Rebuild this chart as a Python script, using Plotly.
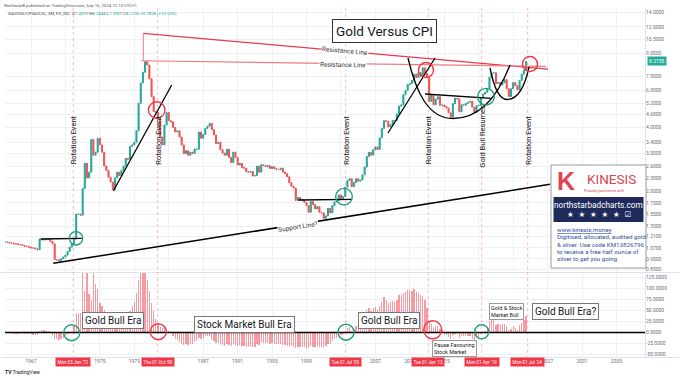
import math
import pandas as pd
import plotly.graph_objects as go

W, H = 680, 378

# ---------------- data (quarterly, 1964 Q1 .. 2024 Q3) ----------------
first_quarter = "1964-01-01"

ratio_close = [
    1.14, 1.14, 1.13, 1.13,   # 1964
    1.12, 1.12, 1.11, 1.11,   # 1965
    1.10, 1.09, 1.09, 1.08,   # 1966
    1.07, 1.07, 1.06, 1.05,   # 1967
    1.18, 1.17, 1.17, 1.18,   # 1968
    1.18, 1.15, 1.12, 0.94,   # 1969
    0.94, 0.93, 0.95, 0.97,   # 1970
    0.99, 1.03, 1.08, 1.12,   # 1971
    1.18, 1.55, 1.55, 1.53,   # 1972
    2.05, 2.70, 2.30, 2.45,   # 1973
    3.50, 2.95, 3.05, 3.55,   # 1974
    3.30, 3.05, 2.62, 2.50,   # 1975
    2.32, 2.20, 2.03, 2.30,   # 1976
    2.45, 2.36, 2.50, 2.62,   # 1977
    2.85, 2.82, 3.25, 3.30,   # 1978
    3.40, 3.85, 5.20, 6.50,   # 1979
    7.30, 8.20, 7.90, 6.80,   # 1980
    5.60, 4.75, 4.70, 4.40,   # 1981
    3.60, 3.30, 4.10, 4.70,   # 1982
    4.30, 4.25, 4.00, 3.80,   # 1983
    3.85, 3.60, 3.30, 3.00,   # 1984
    3.10, 2.95, 3.05, 3.00,   # 1985
    3.15, 3.15, 3.80, 3.55,   # 1986
    3.70, 3.95, 4.05, 4.18,   # 1987
    3.90, 3.68, 3.35, 3.40,   # 1988
    3.13, 3.02, 2.95, 3.15,   # 1989
    2.88, 2.72, 3.05, 2.88,   # 1990
    2.65, 2.70, 2.58, 2.56,   # 1991
    2.46, 2.45, 2.47, 2.35,   # 1992
    2.36, 2.62, 2.45, 2.66,   # 1993
    2.64, 2.60, 2.63, 2.55,   # 1994
    2.60, 2.55, 2.52, 2.52,   # 1995
    2.56, 2.45, 2.41, 2.33,   # 1996
    2.18, 2.10, 2.06, 1.80,   # 1997
    1.86, 1.82, 1.80, 1.76,   # 1998
    1.70, 1.58, 1.78, 1.72,   # 1999
    1.64, 1.68, 1.58, 1.57,   # 2000
    1.48, 1.52, 1.65, 1.57,   # 2001
    1.70, 1.77, 1.79, 1.91,   # 2002
    1.84, 1.88, 2.08, 2.24,   # 2003
    2.28, 2.09, 2.19, 2.28,   # 2004
    2.22, 2.25, 2.38, 2.59,   # 2005
    2.91, 3.04, 2.95, 3.13,   # 2006
    3.23, 3.14, 3.56, 3.95,   # 2007
    4.30, 4.27, 4.02, 4.12,   # 2008
    4.31, 4.31, 4.63, 5.04,   # 2009
    5.11, 5.71, 5.98, 6.39,   # 2010
    6.45, 6.67, 7.15, 6.89,   # 2011
    7.26, 6.98, 7.67, 7.20,   # 2012
    6.87, 5.31, 5.68, 5.12,   # 2013
    5.44, 5.59, 5.09, 5.10,   # 2014
    5.02, 4.94, 4.69, 4.47,   # 2015
    5.18, 5.50, 5.46, 4.74,   # 2016
    5.12, 5.09, 5.20, 5.26,   # 2017
    5.31, 4.99, 4.72, 5.07,   # 2018
    5.09, 5.52, 5.74, 5.87,   # 2019
    6.11, 6.92, 7.25, 7.26,   # 2020
    6.45, 6.53, 6.36, 6.51,   # 2021
    6.74, 6.10, 5.60, 6.10,   # 2022
    6.52, 6.31, 6.02, 6.68,   # 2023
    7.15, 7.46, 8.2155,       # 2024
]

oscillator = [
    -2, -2, -2, -3,  -3, -3, -3, -3,  -3, -4, -4, -4,  -4, -5, -5, -5,      # 1964-67
    4, 5, 5, 4,  3, 2, -5, -14,  -15, -16, -14, -12,  -9, -6, -2, 2,        # 1968-71
    18, 44, 43, 45,  135, 95, 135, 88,  75, 135, 110, 100,  67, 60, 52, 46, # 1972-75
    44, 44, 42, 44,  45, 43, 44, 44,  44, 45, 48, 60,  70, 90, 120, 135,    # 1976-79
    135, 135, 120, 95,  67, 50, 30, 21,  12, 10, 12, 8,  4, 0, -8, -15,     # 1980-83
    -18, -22, -26, -28,  -27, -28, -26, -25,  -22, -20, -12, -15,  -12, -9, -8, -8,  # 1984-87
    -15, -20, -24, -24,  -26, -28, -30, -27,  -29, -31, -25, -28,  -30, -29, -31, -31,  # 1988-91
    -32, -32, -31, -34,  -33, -25, -28, -22,  -23, -24, -23, -25,  -24, -25, -26, -26,  # 1992-95
    -25, -28, -29, -31,  -30, -31, -32, -35,  -33, -33, -33, -34,  -35, -36, -30, -32,  # 1996-99
    -33, -31, -33, -32,  -34, -30, -25, -27,  -20, -15, -12, -5,  -6, -3, 4, 10,        # 2000-03
    12, 4, 8, 14,  22, 26, 32, 42,  52, 55, 50, 55,  57, 52, 60, 70,       # 2004-07
    80, 75, 67, 70,  72, 70, 75, 85,  85, 90, 92, 96,  97, 95, 98, 92,     # 2008-11
    90, 85, 82, 75,  55, 25, 20, 10,  14, 15, 8, 6,  -3, -5, -10, -14,     # 2012-15
    -5, -3, -4, -12,  -8, -9, -8, -8,  -9, -14, -17, -12,  -10, -3, 2, 4,  # 2016-19
    10, 27, 30, 29,  18, 20, 18, 19,  20, 15, 6, 8,  14, 10, 6, 16,        # 2020-23
    21, 28, 38,                                                             # 2024
]

# year labels visible on the time axis (others sit under the date badges)
year_grid = list(range(1967, 2040, 4))
year_labels = [1967, 1975, 1979, 1987, 1991, 1995, 1999, 2007, 2011, 2015,
               2027, 2031, 2035, 2039]
price_ticks = [0.85, 0.95, 1.07, 1.21, 1.35, 1.55, 1.75, 2.0, 2.3, 2.6, 3.0, 3.4,
               4.0, 4.6, 5.2, 6.0, 7.0, 9.0, 10.5, 12.0, 14.0]
osc_ticks = [-50, -25, 0, 25, 50, 75, 100, 125]

event_badges = ["Mon 03 Jan '72", "Thu 01 Oct '80", "Tue 01 Jul '05",
                "Tue 01 Jan '13", "Mon 01 Apr '19", "Mon 01 Jul '24"]
last_price = 8.2155

# ---------------- derived ----------------
dates = pd.date_range(first_quarter, periods=len(ratio_close), freq="QS")
opens = [ratio_close[0]] + ratio_close[:-1]
highs = [max(o, c) for o, c in zip(opens, ratio_close)]
lows = [min(o, c) for o, c in zip(opens, ratio_close)]


def frac_year(fy):
    y = int(math.floor(fy))
    s = pd.Timestamp(y, 1, 1)
    days = (pd.Timestamp(y + 1, 1, 1) - s).days
    return s + pd.Timedelta(days=(fy - y) * days)


def px_year(px):
    return 1967 + (px - 31) / 8.61


X_L, X_R = 5, 645
x_range = [frac_year(px_year(X_L)), frac_year(px_year(X_R))]

# main pane (log) pixel geometry
TOP_M, BOT_M = 8, 272
def price_at(py):
    return math.exp(math.log(14) - (py - 12.7) / 91.5)
y_range = [math.log10(price_at(BOT_M)), math.log10(price_at(TOP_M))]

TOP_O, BOT_O = 273, 357
ZERO_O = 332.5
osc_range = [-(BOT_O - ZERO_O) * 25 / 11, (ZERO_O - TOP_O) * 25 / 11]

GRID = "#eef0f5"
TICKC = "#6a6d78"
RED = "#f23645"
GREEN = "#1f9e7a"

fig = go.Figure()
fig.add_trace(go.Candlestick(
    x=dates, open=opens, high=highs, low=lows, close=ratio_close,
    increasing=dict(line=dict(color="#26a69a", width=1.0), fillcolor="#26a69a"),
    decreasing=dict(line=dict(color="#ef5350", width=1.0), fillcolor="#ef5350"),
    whiskerwidth=0, xaxis="x", yaxis="y", showlegend=False, hoverinfo="skip"))
fig.add_trace(go.Bar(
    x=dates, y=oscillator, xaxis="x2", yaxis="y2", showlegend=False,
    marker=dict(color="rgba(242,54,69,0.5)", line=dict(width=0)),
    width=55 * 86400000, hoverinfo="skip"))

# ---------------- helpers for drawings (pixel -> paper) ----------------
def X(px):
    return px / W


def Y(py):
    return 1 - py / H


shapes = []
ann = []


def line(x0, y0, x1, y1, color="black", width=1.3, dash="solid"):
    shapes.append(dict(type="line", xref="paper", yref="paper",
                       x0=X(x0), y0=Y(y0), x1=X(x1), y1=Y(y1),
                       line=dict(color=color, width=width, dash=dash), layer="above"))


def circle(cx, cy, r, color):
    shapes.append(dict(type="circle", xref="paper", yref="paper",
                       x0=X(cx - r), x1=X(cx + r), y0=Y(cy + r), y1=Y(cy - r),
                       line=dict(color=color, width=1.4), layer="above"))


def rect(x0, y0, x1, y1, fill, border=None, bw=1):
    shapes.append(dict(type="rect", xref="paper", yref="paper",
                       x0=X(x0), x1=X(x1), y0=Y(y1), y1=Y(y0), fillcolor=fill,
                       line=dict(color=border or fill, width=bw if border else 0),
                       layer="above"))


def curve(points, color="black", width=1.3):
    # points: start, then groups of 3 for cubic beziers
    p = "M {:.5f},{:.5f}".format(X(points[0][0]), Y(points[0][1]))
    rest = points[1:]
    for i in range(0, len(rest), 3):
        p += " C " + " ".join("{:.5f},{:.5f}".format(X(a), Y(b)) for a, b in rest[i:i + 3])
    shapes.append(dict(type="path", xref="paper", yref="paper", path=p,
                       line=dict(color=color, width=width), layer="above"))


def text(x, y, s, size=7, color="#131722", angle=0, xanchor="center", yanchor="middle",
         bg=None, border=None, pad=1, family="Roboto", align="center"):
    d = dict(xref="paper", yref="paper", x=X(x), y=Y(y), text=s, showarrow=False,
             xanchor=xanchor, yanchor=yanchor, textangle=angle, align=align,
             font=dict(size=size, color=color, family=family), borderpad=pad)
    if bg:
        d["bgcolor"] = bg
    if border:
        d["bordercolor"] = border
        d["borderwidth"] = 1
    ann.append(d)


# pane separators
line(0, 272.5, 680, 272.5, color="#e0e3eb", width=1)
line(645.5, 8, 645.5, 357, color="#e0e3eb", width=1)
line(0, 357.5, 680, 357.5, color="#e0e3eb", width=1)

# event vertical lines
event_px = [73.3, 157.7, 345.7, 428.3, 481.7, 527.7]
for ex in event_px:
    line(ex, 8, ex, 357, color="rgba(242,54,69,0.35)", width=1, dash="dot")

# zero line of oscillator (data coords)
shapes.append(dict(type="line", xref="paper", yref="y2", x0=X(5), x1=X(645), y0=0, y1=0,
                   line=dict(color="black", width=1.6), layer="above"))

# resistance lines
line(143.3, 33.3, 548, 69.2, color="#e8394a", width=1.3)
line(141, 60.8, 546, 66.4, color="#f07a85", width=1.1)
line(143.3, 33.3, 143.3, 61, color="#f07a85", width=1)

# black trend lines
line(40.7, 239, 81.7, 238.3)
line(113.3, 191, 171.7, 85)
line(53.3, 263.3, 550, 184.3, width=1.5)
line(298.3, 200, 351.7, 199.3)
line(388, 133, 435, 58)
line(425, 94, 491.7, 98.3)
curve([(408, 58), (416, 92), (428, 118.5), (453, 118.5), (480, 118.5), (498, 96), (510, 65)])
curve([(490, 68), (494, 88), (499, 99.5), (507, 99.5), (518, 99.5), (525, 86), (529, 67)])

# circles main pane
circle(76, 238.3, 6.7, GREEN)
circle(156.7, 110, 8.3, RED)
circle(344, 196.7, 8.3, GREEN)
circle(426, 70, 7.5, RED)
circle(486, 96.7, 8.3, GREEN)
circle(530, 64, 7.5, RED)
# circles oscillator pane
circle(71.7, 332.7, 8, GREEN)
circle(158.3, 331.7, 8, RED)
circle(346, 332.2, 8, GREEN)
circle(432.7, 329.8, 9, RED)
circle(481.7, 331.7, 7, GREEN)

# Kinesis box
rect(551, 165, 646, 268, "white", border="#9a9a9a", bw=1)
rect(553.5, 197, 643.5, 222, "#1e2a5a")

fig.update_layout(shapes=shapes)

# ---------------- texts ----------------
text(2, 5, "NorthstarB published on TradingView.com, Sep 16, 2024 12:13 UTC+1",
     size=4.3, color="#555", xanchor="left")
text(6, 14, "XAUUSD/CPIAUCSL, 3M, FX_IDC  "
     "O<span style='color:#22ab94'>7.4599</span> H<span style='color:#22ab94'>8.2448</span> "
     "L<span style='color:#22ab94'>7.3959</span> C<span style='color:#22ab94'>8.2155</span> "
     "<span style='color:#22ab94'>+0.7828 (+10.53%)</span>",
     size=4.3, color="#444", xanchor="left")

text(384.8, 31, "Gold Versus CPI", size=13.5, color="#131722", bg="white", border="#333",
     pad=3, family="Roboto")

text(344.5, 50.5, "Resistance Line", size=6.5, color="#333", angle=5, bg="white", pad=0)
text(342.5, 64.8, "Resistance Line", size=6.5, color="#333", angle=1, bg="white", pad=0)
text(298, 226.7, "Support Line?", size=6.5, color="#333", angle=-9, bg="white", pad=0)

rot_labels = ["Rotation Event", "Rotation Event", "Rotation Event", "Rotation Event",
              "Gold Bull Resumes", "Rotation Event"]
rot_y = [140, 140, 140, 140, 136, 140]
for ex, s, yy in zip(event_px, rot_labels, rot_y):
    text(ex, yy, s, size=7.5, color="#131722", angle=-90)

# oscillator pane notes
text(113, 320.5, "Gold Bull Era", size=10, bg="white", border="#777", pad=2)
text(244.7, 324.5, "Stock Market Bull Era", size=10, bg="white", border="#777", pad=2)
text(389, 320.3, "Gold Bull Era", size=10, bg="white", border="#777", pad=2)
text(454, 348, "Pause Favouring<br>Stock Market", size=5.5, bg="white", border="#999",
     pad=1, align="left")
text(506.7, 311.7, "Gold &amp; Stock<br>Market Bull", size=5.5, bg="white", border="#999",
     pad=1, align="left")
text(565, 311.7, "Gold Bull Era?", size=10, bg="white", border="#777", pad=2)

# event date badges
for ex, s in zip(event_px, event_badges):
    text(ex, 361.5, s, size=4.5, color="white", bg=RED, pad=1.5)

# last price badge
text(647, 61.3, "{:.4f}".format(last_price), size=5, color="white", bg="#22ab94", pad=1,
     xanchor="left")

# TradingView logo
text(3, 372, "<b>TV</b> TradingView", size=5, color="#131722", xanchor="left")

# Kinesis texts
text(566, 181, "<b>K</b>", size=25, color="#e0434f", family="Liberation Sans")
text(611.5, 179, "KINESIS", size=13.5, color="#d9434f", family="Roboto")
text(604, 190.7, "Proudly partnered with", size=4, color="#d9434f")
text(598.5, 204.5, "northstarbadcharts.com", size=8.2, color="white")
text(598.5, 214.5, "\u2605  \u2605  \u2605  \u2605  \u2605  \u2611", size=7.5, color="white",
     family="DejaVu Sans")
kin_lines = ["<u>www.kinesis.money</u>", "Digitised, allocated, audited gold",
             "&amp; silver. Use code KM13826796", "to receive a free half ounce of",
             "silver to get you going"]
for i, s in enumerate(kin_lines):
    text(555, 230 + i * 7.3, s, size=6.2, color="#2f4f9e", xanchor="left")

fig.update_layout(annotations=ann)

# ---------------- axes ----------------
grid_dates = [pd.Timestamp(y, 1, 1) for y in year_grid]
label_dates = [pd.Timestamp(y, 1, 1) for y in year_labels]
fig.update_layout(
    template="none",
    width=W, height=H,
    margin=dict(l=0, r=0, t=0, b=0, pad=0),
    paper_bgcolor="white", plot_bgcolor="white",
    font=dict(family="Roboto", size=6, color=TICKC),
    bargap=0,
    xaxis=dict(domain=[X_L / W, X_R / W], anchor="y", type="date", range=x_range,
               tickvals=grid_dates, showticklabels=False, showgrid=True, gridcolor=GRID,
               gridwidth=1, zeroline=False, showline=False, ticks="",
               rangeslider=dict(visible=False), automargin=False, fixedrange=True),
    xaxis2=dict(domain=[X_L / W, X_R / W], anchor="y2", type="date", matches="x",
                range=x_range, tickvals=label_dates, ticktext=[str(y) for y in year_labels],
                tickfont=dict(size=5, color=TICKC), showgrid=True, gridcolor=GRID,
                zeroline=False, showline=False, ticks="", automargin=False),
    yaxis=dict(domain=[1 - BOT_M / H, 1 - TOP_M / H], anchor="x", type="log",
               range=y_range, side="right", tickvals=price_ticks,
               ticktext=["{:.4f}".format(v) for v in price_ticks],
               tickfont=dict(size=5, color=TICKC), showgrid=True, gridcolor=GRID,
               zeroline=False, showline=False, ticks="", automargin=False),
    yaxis2=dict(domain=[1 - BOT_O / H, 1 - TOP_O / H], anchor="x2", range=osc_range,
                side="right", tickvals=osc_ticks,
                ticktext=["{:.4f}".format(v) for v in osc_ticks],
                tickfont=dict(size=5, color=TICKC), showgrid=True, gridcolor=GRID,
                zeroline=False, showline=False, ticks="", automargin=False),
)

fig.write_html("out.html", config={"displayModeBar": False},
               post_script="document.body.style.margin='0';document.body.style.padding='0';"
                           "document.body.style.overflow='hidden';")
